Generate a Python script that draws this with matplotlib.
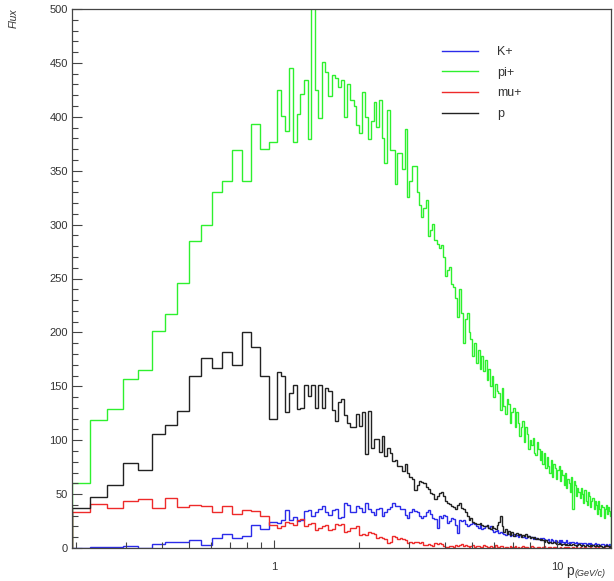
import numpy as np
import matplotlib
matplotlib.use('Agg')
import matplotlib.pyplot as plt
from matplotlib.ticker import FixedLocator, MultipleLocator, NullFormatter

plt.rcParams['font.family'] = ['Liberation Sans', 'DejaVu Sans']

# momentum range of the histograms (GeV/c)
p_min, p_max = 0.193, 15.5
# 17 wide bins below ~1 GeV/c, then 174 narrow ones (uniform in sqrt(p))
n_wide, n_narrow = 17, 174
u_wide = np.linspace(np.sqrt(p_min), np.sqrt(p_max), 105)
edges = np.concatenate([u_wide[:n_wide],
                        np.linspace(u_wide[n_wide], u_wide[-1], n_narrow + 1)]) ** 2

# bin contents
k_plus = [0, 1, 1, 2, 0, 4, 6, 6, 7, 3, 9, 13, 9, 11, 21, 18, 24,
          23, 26, 35, 26, 29, 25, 26, 34, 35, 30,
          33, 36, 39, 33, 31, 35, 36, 28, 29, 42,
          40, 33, 33, 39, 37, 33, 42, 36, 33, 31,
          36, 37, 30, 33, 36, 38, 42, 39, 39, 36,
          36, 31, 28, 33, 36, 34, 33, 30, 28, 30,
          33, 35, 32, 28, 27, 19, 30, 28, 31, 30,
          23, 25, 28, 27, 21, 14, 26, 25, 26, 22,
          20, 21, 22, 23, 22, 20, 19, 21, 18, 19,
          20, 21, 19, 20, 17, 15, 16, 17, 14, 15,
          14, 13, 12, 14, 13, 11, 12, 13, 11, 12,
          10, 12, 11, 10, 11, 9, 10, 11, 9, 10,
          8, 10, 9, 8, 8, 9, 7, 9, 8, 7,
          7, 8, 6, 8, 7, 6, 7, 6, 6, 7,
          5, 7, 6, 5, 6, 7, 5, 6, 5, 6,
          6, 5, 5, 6, 4, 5, 5, 5, 4, 5,
          5, 4, 4, 5, 4, 5, 4, 3, 4, 5,
          3, 4, 4, 3, 3, 4, 4, 3, 3, 4,
          3, 3, 4, 3]

pi_plus = [60, 119, 129, 157, 165, 201, 217, 246, 285, 300, 330, 340, 369, 340, 393, 370, 377,
           425, 401, 387, 445, 377, 403, 421, 434, 379, 502,
           425, 399, 451, 442, 419, 439, 436, 428, 434, 400,
           430, 416, 410, 392, 385, 423, 400, 379, 396, 414,
           391, 416, 380, 357, 406, 369, 369, 338, 366, 366,
           352, 389, 326, 340, 354, 354, 330, 318, 307, 315,
           323, 289, 295, 301, 286, 282, 278, 281, 270, 252,
           258, 261, 245, 242, 232, 214, 240, 218, 190, 212,
           218, 200, 194, 178, 190, 172, 184, 166, 178, 164,
           174, 156, 166, 150, 160, 140, 152, 146, 144, 128,
           148, 132, 124, 138, 134, 116, 126, 130, 112, 126,
           116, 104, 112, 118, 98, 112, 106, 92, 100, 96,
           102, 88, 86, 98, 92, 82, 90, 78, 88, 74,
           84, 76, 70, 82, 66, 78, 74, 64, 72, 76,
           62, 72, 68, 58, 70, 56, 64, 60, 52, 66,
           36, 62, 58, 48, 56, 52, 46, 56, 50, 42,
           54, 44, 40, 52, 48, 38, 44, 46, 36, 44,
           40, 32, 44, 36, 30, 40, 38, 28, 36, 40,
           32, 38, 34, 30]

mu_plus = [33, 41, 37, 44, 45, 37, 46, 38, 40, 39, 33, 39, 32, 35, 34, 30, 21,
           19, 20, 24, 23, 21, 26, 27, 20, 22, 23,
           17, 19, 20, 21, 17, 18, 22, 21, 22, 15,
           16, 19, 19, 20, 12, 13, 12, 15, 14, 13,
           9, 10, 9, 8, 5, 6, 11, 10, 8, 9,
           8, 7, 5, 6, 5, 6, 6, 5, 6, 3,
           3, 4, 3, 2, 5, 4, 5, 4, 2, 1,
           1, 2, 2, 1, 3, 2, 3, 4, 2, 3,
           2, 1, 2, 3, 1, 2, 2, 1, 1, 3,
           2, 1, 1, 2, 1, 0, 3, 1, 1, 2,
           2, 0, 1, 1, 0, 2, 1, 1, 2, 0,
           1, 0, 1, 2, 0, 1, 1, 0, 0, 2,
           1, 0, 0, 1, 1, 0, 0, 1, 2, 0,
           0, 1, 1, 0, 0, 1, 1, 0, 0, 0,
           1, 0, 0, 1, 0, 1, 1, 0, 0, 0,
           1, 0, 0, 1, 0, 0, 1, 0, 0, 0,
           1, 0, 0, 0, 0, 1, 0, 0, 0, 1,
           0, 0, 1, 0, 0, 0, 0, 1, 0, 0,
           0, 0, 1, 0]

proton = [37, 47, 58, 79, 72, 106, 114, 127, 160, 176, 167, 182, 170, 200, 186, 160, 120,
          163, 160, 126, 144, 151, 129, 130, 151, 141, 151,
          130, 151, 130, 148, 146, 128, 118, 135, 138, 123,
          116, 112, 112, 124, 113, 126, 87, 127, 93, 101,
          101, 89, 104, 85, 93, 88, 81, 82, 76, 76,
          71, 78, 70, 66, 64, 54, 58, 62, 61, 60,
          57, 55, 51, 50, 45, 48, 51, 52, 48, 44,
          42, 41, 39, 38, 36, 40, 42, 37, 36, 33,
          30, 26, 28, 24, 23, 22, 22, 23, 21, 20,
          20, 21, 19, 18, 20, 19, 18, 21, 24, 30,
          20, 15, 18, 13, 16, 12, 15, 11, 13, 14,
          12, 13, 10, 12, 11, 13, 10, 11, 9, 10,
          9, 10, 8, 9, 8, 7, 8, 7, 6, 7,
          6, 5, 6, 5, 5, 6, 5, 4, 4, 5,
          4, 3, 4, 4, 3, 4, 3, 4, 3, 3,
          4, 3, 3, 2, 3, 4, 3, 2, 3, 3,
          2, 3, 3, 2, 2, 3, 2, 3, 2, 2,
          3, 2, 2, 3, 2, 2, 1, 2, 2, 3,
          2, 2, 1, 2]

labels = ['K+', 'pi+', 'mu+', 'p']
colors = ['#2b2bea', '#2ef02e', '#ee2a2a', '#222222']
series = [k_plus, pi_plus, mu_plus, proton]

y_major = [0, 50, 100, 150, 200, 250, 300, 350, 400, 450, 500]
x_major = [1, 10]
x_minor = [0.2, 0.3, 0.4, 0.5, 0.6, 0.7, 0.8, 0.9, 2, 3, 4, 5, 6, 7, 8, 9]


def main():
    fig = plt.figure(figsize=(6.14, 5.81), dpi=100)
    ax = fig.add_axes([72 / 614, 1 - 548 / 581, 539 / 614, 539 / 581])

    for vals, col, lab in zip(series, colors, labels):
        ax.stairs(vals, edges, baseline=0, color=col, lw=1.0, label=lab)

    ax.set_xscale('log')
    ax.set_xlim(p_min, p_max)
    ax.set_ylim(0, 500)

    ax.xaxis.set_major_locator(FixedLocator(x_major))
    ax.xaxis.set_minor_locator(FixedLocator(x_minor))
    ax.set_xticklabels(['1', '10'])
    ax.xaxis.set_minor_formatter(NullFormatter())
    ax.yaxis.set_major_locator(FixedLocator(y_major))
    ax.yaxis.set_minor_locator(MultipleLocator(10))

    ax.tick_params(axis='both', which='both', direction='in', color='#444',
                   labelcolor='#333', labelsize=8, width=0.8)
    ax.tick_params(axis='y', which='major', length=7.5, pad=3)
    ax.tick_params(axis='y', which='minor', length=4)
    ax.tick_params(axis='x', which='major', length=6, pad=10)
    ax.tick_params(axis='x', which='minor', length=4)
    for s in ax.spines.values():
        s.set_color('#444')
        s.set_linewidth(0.9)

    # axis titles, ROOT style
    fig.text(14 / 614, 1 - 8 / 581, 'Flux', rotation=90, ha='center', va='top',
             style='italic', fontsize=7.5, color='#333')
    fig.text(566 / 614, 1 - 575 / 581, 'p', ha='left', va='baseline',
             fontsize=10, color='#333')
    fig.text(575 / 614, 1 - 576 / 581, '(GeV/c)', ha='left', va='baseline',
             style='italic', fontsize=6.5, color='#333')

    ax.legend(loc='upper left', bbox_to_anchor=((442 - 72) / 539, (548 - 46) / 539),
              frameon=False, fontsize=9, handlelength=2.9, handletextpad=1.5,
              labelspacing=0.7, borderpad=0, borderaxespad=0, labelcolor='#333')

    fig.savefig('out.png', dpi=100)


if __name__ == '__main__':
    main()
